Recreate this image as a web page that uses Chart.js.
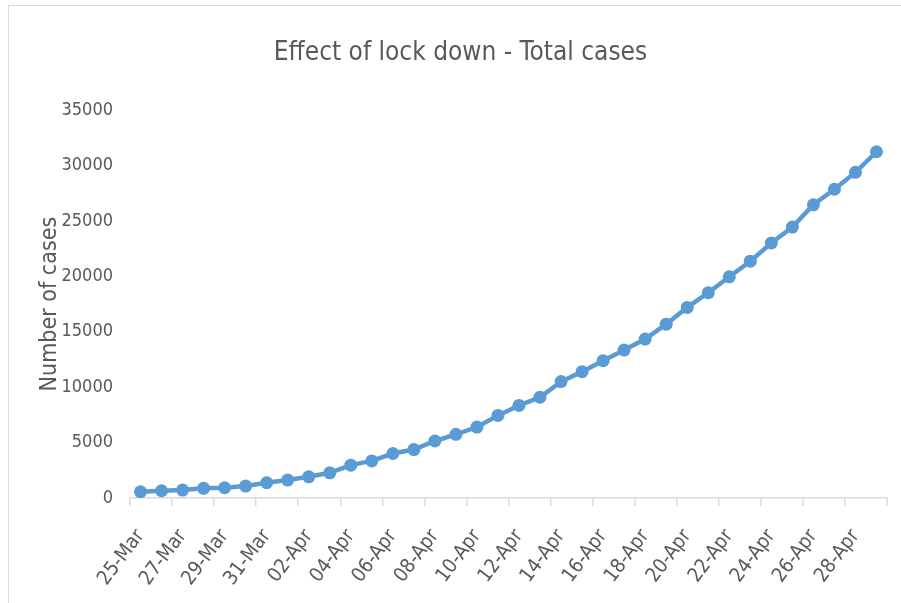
<!DOCTYPE html>
<html>
<head>
<meta charset="utf-8">
<script src="https://cdn.jsdelivr.net/npm/chart.js@4.4.1/dist/chart.umd.min.js"></script>
<style>
  html, body { margin: 0; padding: 0; background: #fff; }
  #wrap { position: relative; width: 901px; height: 603px; }
  #frame { position: absolute; left: 8px; top: 5px; right: -2px; bottom: -2px;
           border-left: 1.5px solid #d9d9d9; border-top: 1.5px solid #d9d9d9; pointer-events: none; }
</style>
</head>
<body>
<div id="wrap">
  <canvas id="c" width="901" height="603"></canvas>
  <div id="frame"></div>
</div>
<script>
const chartTitle = 'Effect of lock down - Total cases';
const yAxisTitle = 'Number of cases';
const categories = ['25-Mar','26-Mar','27-Mar','28-Mar','29-Mar','30-Mar','31-Mar',
  '01-Apr','02-Apr','03-Apr','04-Apr','05-Apr','06-Apr','07-Apr','08-Apr','09-Apr','10-Apr',
  '11-Apr','12-Apr','13-Apr','14-Apr','15-Apr','16-Apr','17-Apr','18-Apr','19-Apr','20-Apr',
  '21-Apr','22-Apr','23-Apr','24-Apr','25-Apr','26-Apr','27-Apr','28-Apr','29-Apr'];
const totalCases = [566, 656, 718, 871, 925, 1078, 1374, 1616, 1913, 2272, 2963, 3350,
  4014, 4373, 5146, 5747, 6403, 7453, 8351, 9097, 10507, 11405, 12393, 13353, 14341,
  15688, 17200, 18526, 19963, 21372, 23016, 24453, 26464, 27865, 29392, 31250];
const yMin = 0, yMax = 35000, yStep = 5000;

const FONT = "'DejaVu Sans Condensed', 'Open Sans', sans-serif";
const TXT = '#595959';
const AXIS = '#d9d9d9';

const endTick = {
  id: 'endTick',
  afterDraw(chart) {
    const xs = chart.scales.x, ctx = chart.ctx;
    ctx.save();
    ctx.strokeStyle = AXIS; ctx.lineWidth = 1.5;
    ctx.beginPath();
    ctx.moveTo(xs.right, xs.top); ctx.lineTo(xs.right, xs.top + 8);
    ctx.stroke();
    ctx.restore();
  }
};

new Chart(document.getElementById('c'), {
  type: 'line',
  data: {
    labels: categories,
    datasets: [{
      data: totalCases,
      borderColor: '#5b9bd5',
      backgroundColor: '#5b9bd5',
      borderWidth: 4.5,
      pointRadius: 6.5,
      pointHoverRadius: 6.5,
      pointBorderWidth: 0,
      tension: 0
    }]
  },
  options: {
    responsive: false,
    animation: false,
    layout: { padding: { left: 34, right: 14, top: 20, bottom: 0 } },
    plugins: {
      legend: { display: false },
      tooltip: { enabled: false },
      title: {
        display: true,
        text: chartTitle,
        color: TXT,
        font: { family: FONT, size: 26, weight: 'normal' },
        padding: { top: 18, bottom: 41 }
      }
    },
    scales: {
      x: {
        offset: true,
        afterFit: (s) => { s.height = 105; s.paddingLeft = 0; s.paddingRight = 0; },
        grid: {
          offset: true,
          drawOnChartArea: false,
          drawTicks: true,
          tickLength: 8,
          lineWidth: 1.5,
          color: (ctx) => (ctx.index % 2 === 0 ? AXIS : 'rgba(0,0,0,0)')
        },
        border: { display: true, color: AXIS, width: 1.5 },
        ticks: {
          autoSkip: false,
          minRotation: 53,
          maxRotation: 53,
          color: TXT,
          padding: 19,
          font: { family: FONT, size: 20 },
          callback: function (v, i) { return i % 2 === 0 ? this.getLabelForValue(v) : ''; }
        }
      },
      y: {
        min: yMin, max: yMax,
        grid: { display: false, drawTicks: false },
        border: { display: false },
        afterFit: (s) => { s.width = 96; },
        ticks: {
          stepSize: yStep,
          color: TXT,
          padding: 17,
          font: { family: FONT, size: 18 },
          callback: (v) => String(v)
        },
        title: {
          display: true,
          text: yAxisTitle,
          color: TXT,
          font: { family: FONT, size: 23 },
          padding: { top: 2, bottom: 0 }
        }
      }
    }
  },
  plugins: [endTick]
});
</script>
</body>
</html>
